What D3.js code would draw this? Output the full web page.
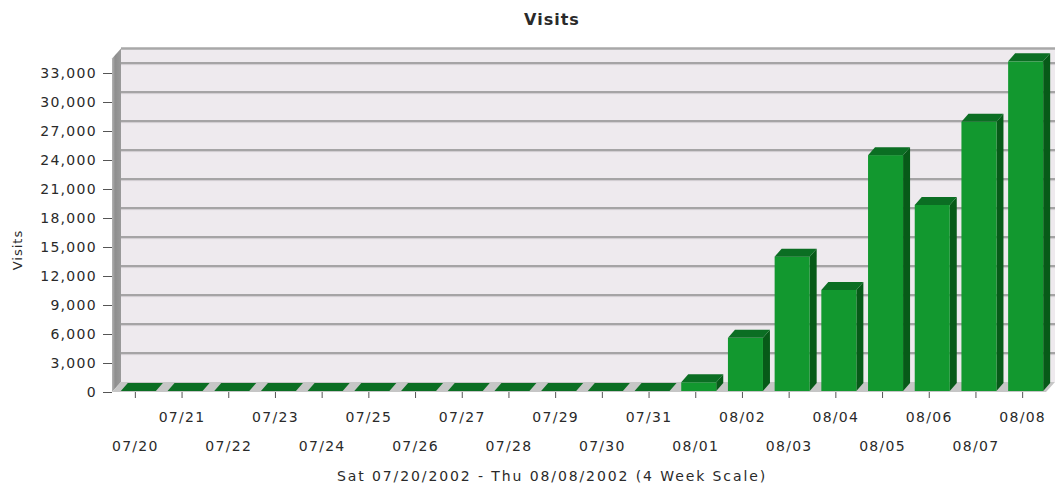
<!DOCTYPE html>
<html>
<head>
<meta charset="utf-8">
<script src="https://cdn.jsdelivr.net/npm/d3@7/dist/d3.min.js"></script>
<style>
  html, body { margin: 0; padding: 0; background: #ffffff; }
  svg { display: block; }
  text { font-family: "DejaVu Sans", Verdana, sans-serif; fill: #2a2a2a; }
</style>
</head>
<body>
<svg id="chart" width="1056" height="489"></svg>
<script>
// Daily visits, Sat 07/20/2002 - Thu 08/08/2002
const categories = ["07/20","07/21","07/22","07/23","07/24","07/25","07/26","07/27","07/28","07/29",
                    "07/30","07/31","08/01","08/02","08/03","08/04","08/05","08/06","08/07","08/08"];
const visits = [0,0,0,0,0,0,0,0,0,0,0,0,900,5500,13900,10450,24400,19250,27850,34100];
const yTickValues = [0,3000,6000,9000,12000,15000,18000,21000,24000,27000,30000,33000];
const chartTitle = "Visits";
const yTitle = "Visits";
const xTitle = "Sat 07/20/2002 - Thu 08/08/2002 (4 Week Scale)";

const plot = { left: 112, right: 1046, bottom: 392 };
const depth = { dx: 9, dy: -10 };      // wall / floor depth
const barDepth = { dx: 7, dy: -8 };    // bar depth
const barInset = { dx: 3, dy: -1 };    // bars sit slightly behind the front plane

const svg = d3.select("#chart");

const x = d3.scaleBand().domain(categories).range([plot.left, plot.right]).paddingInner(0).paddingOuter(0);
const y = d3.scaleLinear().domain([0, 34500]).range([plot.bottom, plot.bottom - 34500 * 319 / 33000]);

const plotTop = y.range()[1];
const poly = pts => pts.map(p => p.join(",")).join(" ");

// back wall
svg.append("polygon")
  .attr("points", poly([
    [plot.left + depth.dx, plotTop + depth.dy], [plot.right + depth.dx, plotTop + depth.dy],
    [plot.right + depth.dx, plot.bottom + depth.dy], [plot.left + depth.dx, plot.bottom + depth.dy]]))
  .attr("fill", "#eeeaee");

// top edge of the back wall
svg.append("line")
  .attr("x1", plot.left + depth.dx).attr("x2", plot.right + depth.dx)
  .attr("y1", plotTop + depth.dy).attr("y2", plotTop + depth.dy)
  .attr("stroke", "#a8a8a8").attr("stroke-width", 2.5);

// gridlines on the back wall
const grid = svg.append("g");
yTickValues.filter(v => v > 0).forEach(v => {
  const gy = y(v) + depth.dy;
  grid.append("line")
    .attr("x1", plot.left + depth.dx).attr("x2", plot.right + depth.dx)
    .attr("y1", gy).attr("y2", gy)
    .attr("stroke", "#8c8c8c").attr("stroke-width", 1.6);
  grid.append("line")
    .attr("x1", plot.left + depth.dx).attr("x2", plot.right + depth.dx)
    .attr("y1", gy + 1.6).attr("y2", gy + 1.6)
    .attr("stroke", "#cfcccf").attr("stroke-width", 1);
});

// left wall
const wallGrad = svg.append("defs").append("linearGradient")
  .attr("id", "wallGrad").attr("x1", "0").attr("x2", "1").attr("y1", "0").attr("y2", "0");
wallGrad.append("stop").attr("offset", "0%").attr("stop-color", "#b4b4b4");
wallGrad.append("stop").attr("offset", "35%").attr("stop-color", "#8e8e8e");
wallGrad.append("stop").attr("offset", "100%").attr("stop-color", "#9a9a9a");
svg.append("polygon")
  .attr("points", poly([
    [plot.left, plotTop], [plot.left + depth.dx, plotTop + depth.dy],
    [plot.left + depth.dx, plot.bottom + depth.dy], [plot.left, plot.bottom]]))
  .attr("fill", "url(#wallGrad)");

// floor
svg.append("polygon")
  .attr("points", poly([
    [plot.left, plot.bottom], [plot.right, plot.bottom],
    [plot.right + depth.dx, plot.bottom + depth.dy], [plot.left + depth.dx, plot.bottom + depth.dy]]))
  .attr("fill", "#c6c6c6");

// bars
const bw = x.bandwidth() * 0.75;
const bars = svg.append("g").selectAll("g").data(categories.map((c, i) => ({ c, v: visits[i] }))).join("g");
bars.each(function(d) {
  const g = d3.select(this);
  const x0 = x(d.c) + (x.bandwidth() - bw) / 2 + barInset.dx;
  const x1 = x0 + bw;
  const yb = y(0) + barInset.dy;
  const yt = y(d.v) + barInset.dy;
  if (d.v > 0) {
    g.append("polygon")
      .attr("points", poly([[x1, yb], [x1 + barDepth.dx, yb + barDepth.dy], [x1 + barDepth.dx, yt + barDepth.dy], [x1, yt]]))
      .attr("fill", "#075a18");
    g.append("rect")
      .attr("x", x0).attr("y", yt).attr("width", bw).attr("height", yb - yt)
      .attr("fill", "#12982f");
  }
  g.append("polygon")
    .attr("points", poly([[x0, yt], [x0 + barDepth.dx, yt + barDepth.dy], [x1 + barDepth.dx, yt + barDepth.dy], [x1, yt]]))
    .attr("fill", "#0b6e23");
});

// y axis
const yAxis = svg.append("g")
  .attr("transform", `translate(${plot.left},0)`)
  .call(d3.axisLeft(y).tickValues(yTickValues).tickFormat(d3.format(",")).tickSize(9).tickPadding(6));
yAxis.select(".domain").remove();
yAxis.selectAll(".tick line").attr("stroke", "#555");
yAxis.selectAll(".tick text")
  .attr("font-size", 14).attr("letter-spacing", 1.3)
  .attr("font-family", "DejaVu Sans").attr("fill", "#2a2a2a");

// x axis with staggered labels
const xAxis = svg.append("g")
  .attr("transform", `translate(0,${plot.bottom})`)
  .call(d3.axisBottom(x).tickSize(6));
xAxis.select(".domain").remove();
xAxis.selectAll(".tick line").attr("stroke", "#555");
xAxis.selectAll(".tick text")
  .attr("font-size", 14).attr("letter-spacing", 1.3)
  .attr("font-family", "DejaVu Sans").attr("fill", "#2a2a2a")
  .attr("dy", 0)
  .attr("y", (d, i) => i % 2 === 1 ? 30 : 59);

// titles
svg.append("text")
  .attr("x", 552).attr("y", 25).attr("text-anchor", "middle")
  .attr("font-size", 16).attr("font-weight", "bold").attr("letter-spacing", 1)
  .attr("fill", "#111").text(chartTitle);

svg.append("text")
  .attr("transform", "translate(22,250) rotate(-90)")
  .attr("text-anchor", "middle").attr("font-size", 13).attr("letter-spacing", 1)
  .text(yTitle);

svg.append("text")
  .attr("x", 552).attr("y", 481).attr("text-anchor", "middle")
  .attr("font-size", 14).attr("letter-spacing", 1.9)
  .text(xTitle);
</script>
</body>
</html>
